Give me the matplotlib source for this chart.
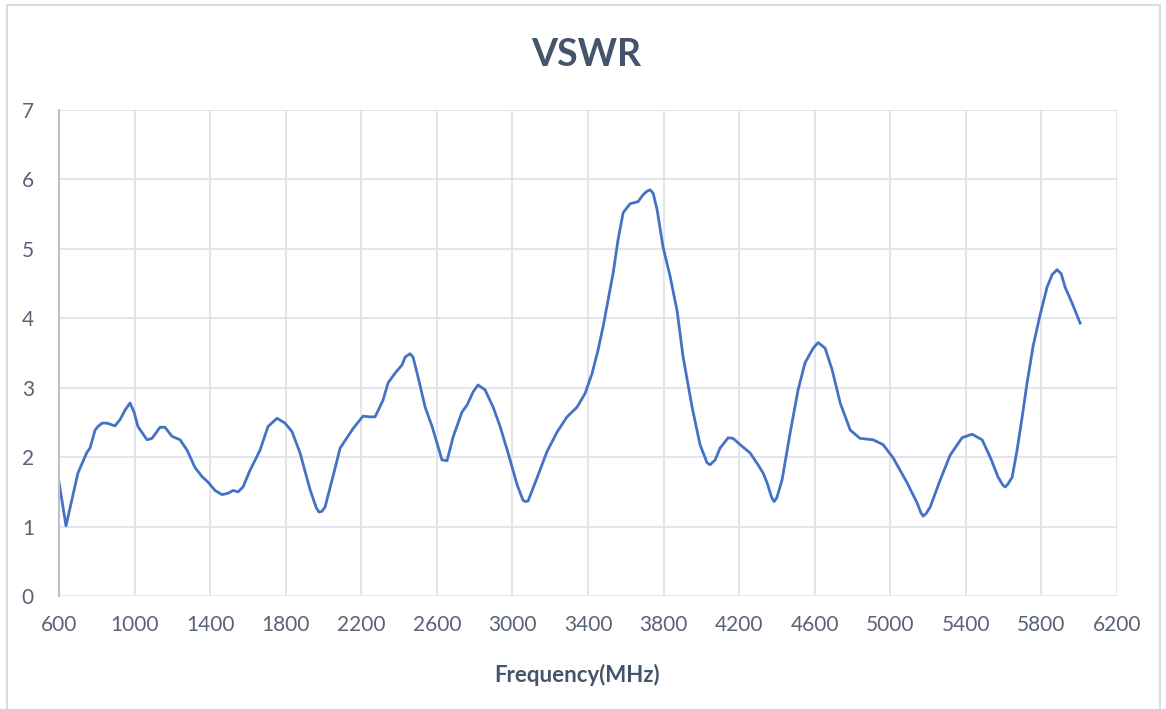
import numpy as np
import matplotlib
matplotlib.use("Agg")
from matplotlib import pyplot as plt
from matplotlib.patches import Rectangle

# values
freq = [600, 637, 700, 748, 764, 791, 806, 828, 854, 896, 923, 950, 976, 997,
        1018, 1066, 1092, 1135, 1161, 1198, 1241, 1278, 1320, 1357, 1389, 1426,
        1463, 1495, 1521, 1548, 1574, 1611, 1664, 1706, 1754, 1796, 1833, 1876,
        1929, 1962, 1976, 1992, 2008, 2050, 2088, 2156, 2209, 2246, 2273, 2315, 2342, 2379,
        2416, 2432, 2458, 2474, 2500, 2538, 2575, 2627, 2654, 2686, 2733, 2760,
        2792, 2818, 2855, 2898, 2935, 2977, 3025, 3056, 3070, 3083, 3130, 3183, 3236,
        3289, 3342, 3385, 3422, 3453, 3480, 3533, 3559, 3586, 3623, 3665, 3692,
        3712, 3729, 3745, 3766, 3797, 3835, 3872, 3903, 3951, 3993, 4030, 4046, 4073, 4099,
        4142, 4168, 4205, 4258, 4300, 4327, 4348, 4372, 4385, 4400, 4427, 4470, 4512, 4549,
        4592, 4618, 4655, 4692, 4735, 4788, 4840, 4909, 4962, 5015, 5089, 5142,
        5162, 5174, 5190, 5211, 5264, 5317, 5380, 5433, 5486, 5529, 5571, 5595, 5608, 5622,
        5645, 5671, 5698, 5724, 5756, 5793, 5830, 5857, 5883, 5905, 5925, 5962, 6005]
vswr = [1.64, 1.01, 1.77, 2.07, 2.13, 2.39, 2.44, 2.49, 2.49, 2.45, 2.54, 2.68, 2.78, 2.65,
        2.44, 2.25, 2.27, 2.43, 2.43, 2.30, 2.25, 2.10, 1.85, 1.72, 1.64, 1.52,
        1.46, 1.48, 1.52, 1.50, 1.57, 1.81, 2.10, 2.44, 2.56, 2.49, 2.37, 2.06,
        1.53, 1.27, 1.21, 1.22, 1.28, 1.72, 2.13, 2.41, 2.59, 2.58, 2.58, 2.82, 3.07, 3.21,
        3.33, 3.44, 3.49, 3.44, 3.16, 2.72, 2.44, 1.96, 1.95, 2.29, 2.65, 2.75,
        2.94, 3.04, 2.97, 2.72, 2.44, 2.06, 1.60, 1.38, 1.36, 1.37, 1.70, 2.08, 2.36,
        2.58, 2.72, 2.92, 3.21, 3.54, 3.88, 4.65, 5.13, 5.52, 5.65, 5.68, 5.78,
        5.83, 5.85, 5.80, 5.56, 5.03, 4.60, 4.10, 3.45, 2.72, 2.18, 1.92, 1.89, 1.96, 2.13,
        2.28, 2.27, 2.18, 2.06, 1.89, 1.77, 1.63, 1.42, 1.36, 1.42, 1.67, 2.35, 2.97, 3.36,
        3.57, 3.65, 3.57, 3.26, 2.78, 2.39, 2.27, 2.25, 2.18, 1.99, 1.63, 1.34,
        1.20, 1.15, 1.19, 1.28, 1.67, 2.03, 2.28, 2.33, 2.25, 2.00, 1.71, 1.60, 1.57, 1.61,
        1.71, 2.10, 2.58, 3.07, 3.60, 4.05, 4.45, 4.63, 4.70, 4.64, 4.45, 4.22, 3.93]

x_ticks = list(range(600, 6201, 400))
y_ticks = list(range(0, 8))

plt.rcParams['font.family'] = ['Lato', 'DejaVu Sans']

W, H = 1166, 709
fig = plt.figure(figsize=(W / 100, H / 100), dpi=100, facecolor='white')
ax = fig.add_axes([59 / W, 1 - 596 / H, (1117 - 59) / W, (596 - 110) / H])

ax.plot(freq, vswr, color='#4472C4', linewidth=2.0, solid_joinstyle='round')

ax.set_xlim(600, 6200)
ax.set_ylim(0, 7)
ax.set_xticks(x_ticks)
ax.set_yticks(y_ticks)
ax.grid(True, color='#dfe3ea', linewidth=1.3)
ax.set_axisbelow(True)
ax.tick_params(length=0, labelsize=15, labelcolor='#586376')
ax.tick_params(axis='x', pad=14)
ax.tick_params(axis='y', pad=18)
for side in ['top', 'right', 'bottom']:
    ax.spines[side].set_visible(False)
ax.spines['left'].set_color('#b7c1d0')
ax.spines['left'].set_linewidth(1.5)

fig.text(586 / W, 1 - 55 / H, 'VSWR', ha='center', va='center',
         fontsize=27, fontweight='bold', color='#44546A')
fig.text(577 / W, 1 - 675 / H, 'Frequency(MHz)', ha='center', va='center',
         fontsize=16, fontweight='bold', color='#44546A')

# outer chart frame
fig.patches.append(Rectangle((7 / W, -0.01), (1160 - 7) / W, 1 - 5 / H + 0.01,
                             transform=fig.transFigure, fill=False,
                             edgecolor='#d9dde3', linewidth=1.5))

fig.savefig('out.png', dpi=100)
